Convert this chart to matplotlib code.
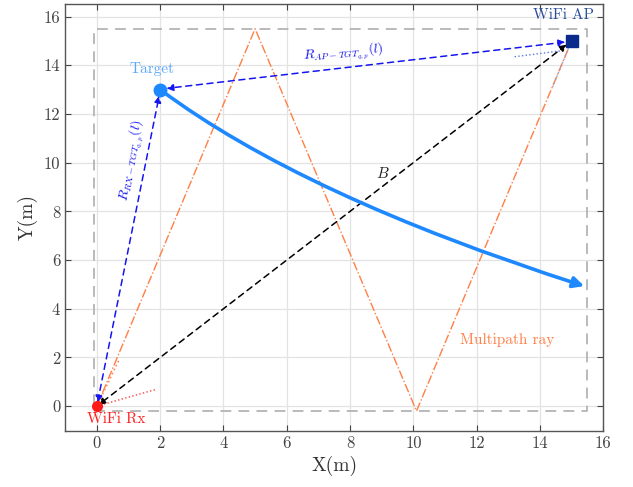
import numpy as np
import matplotlib
matplotlib.use("Agg")
import matplotlib.pyplot as plt
from matplotlib.path import Path
from matplotlib.patches import FancyArrowPatch

plt.rcParams['font.family'] = ['cmr10', 'DejaVu Serif']
plt.rcParams['mathtext.fontset'] = 'cm'
plt.rcParams['axes.unicode_minus'] = False

# positions (m)
rx = (0, 0)
ap = (15, 15)
target = (2, 13)

# room boundary (dashed box)
room_x = [-0.1, 15.5, 15.5, -0.1, -0.1]
room_y = [-0.2, -0.2, 15.5, 15.5, -0.2]

# multipath ray vertices
mp_x = [0, 5, 10.1, 15]
mp_y = [0, 15.5, -0.2, 15]

# target trajectory: start, bend control point, end
traj_x = [2.0, 6.5, 15.4]
traj_y = [13.0, 8.64, 4.93]

fig = plt.figure(figsize=(6.33, 4.87), dpi=100)
ax = fig.add_axes([0.103, 0.116, 0.85, 0.875])

ax.plot(room_x, room_y, color='#b4b4b4', linestyle=(0, (6, 4)), lw=1.3, zorder=1)
ax.plot(mp_x, mp_y, color='#ff7f45', linestyle='-.', lw=1.0, zorder=2)

# angle indicators
ax.plot([0, 1.9], [0, 0.7], color='#ff4040', linestyle=':', lw=1.0, zorder=2)
ax.plot([0, 0.7], [0, 1.9], color='#ff8a5a', linestyle=':', lw=1.2, zorder=2)
ax.plot([13.2, 14.7], [14.35, 14.6], color='#5a78e0', linestyle=':', lw=1.0, zorder=2)
ax.plot([14.9, 14.4], [14.7, 13.1], color='#8aa0d8', linestyle=':', lw=1.0, zorder=2)

# trajectory
traj = Path(list(zip(traj_x, traj_y)), [Path.MOVETO, Path.CURVE3, Path.CURVE3])
ax.add_patch(FancyArrowPatch(path=traj, arrowstyle='-|>', color='#1e88ff', lw=2.6,
                             mutation_scale=16, zorder=4))

# baseline and bistatic ranges
ax.annotate('', xy=(0.05, 0.05), xytext=(14.85, 14.85),
            arrowprops=dict(arrowstyle='<|-|>', color='black', lw=1.1, linestyle=(0, (4, 3)),
                            mutation_scale=10, shrinkA=0, shrinkB=0), zorder=3)
ax.annotate('', xy=(2.2, 13.05), xytext=(14.8, 14.95),
            arrowprops=dict(arrowstyle='<|-|>', color='#1515f0', lw=1.1, linestyle=(0, (4, 3)),
                            mutation_scale=10, shrinkA=0, shrinkB=0), zorder=3)
ax.annotate('', xy=(1.97, 12.75), xytext=(0.02, 0.15),
            arrowprops=dict(arrowstyle='<|-|>', color='#1515f0', lw=1.1, linestyle=(0, (4, 3)),
                            mutation_scale=10, shrinkA=0, shrinkB=0), zorder=3)

# nodes
ax.plot(*rx, 'o', color='#ff1a1a', ms=7, zorder=5)
ax.plot(*ap, 's', color='#0a2a8c', ms=8, zorder=5)
ax.plot(*target, 'o', color='#1e88ff', ms=9, zorder=5)

# labels
ax.text(14.75, 16.05, 'WiFi AP', color='#2a4d9a', fontsize=11, ha='center', va='center')
ax.text(0.6, -0.55, 'WiFi Rx', color='#ff2020', fontsize=11, ha='center', va='center')
ax.text(1.75, 13.85, 'Target', color='#5aa9ff', fontsize=11, ha='center', va='center')
ax.text(12.95, 2.7, 'Multipath ray', color='#ff7f45', fontsize=11, ha='center', va='center')
ax.text(9.05, 9.55, '$B$', color='#222222', fontsize=11, ha='center', va='center')
ax.text(7.8, 14.5, r'$R_{AP-TGT_{q,p}}(l)$', color='#1515f0', fontsize=10,
        ha='center', va='center', rotation=5)
ax.text(1.13, 10.1, r'$R_{RX-TGT_{q,p}}(l)$', color='#1515f0', fontsize=10,
        ha='center', va='center', rotation=80)

ax.set_xlim(-1, 16)
ax.set_ylim(-1, 16.5)
ax.set_xticks(np.arange(0, 17, 2))
ax.set_yticks(np.arange(0, 17, 2))
ax.grid(True, color='#e3e3e3', lw=0.9)
ax.set_axisbelow(True)
ax.tick_params(direction='in', top=True, right=True, labelsize=12, colors='#444444', length=4)
for s in ax.spines.values():
    s.set_color('#555555')
    s.set_linewidth(1.0)
ax.set_xlabel('X(m)', fontsize=14, color='#333333')
ax.set_ylabel('Y(m)', fontsize=14, color='#333333')

fig.savefig('out.png', dpi=100)
